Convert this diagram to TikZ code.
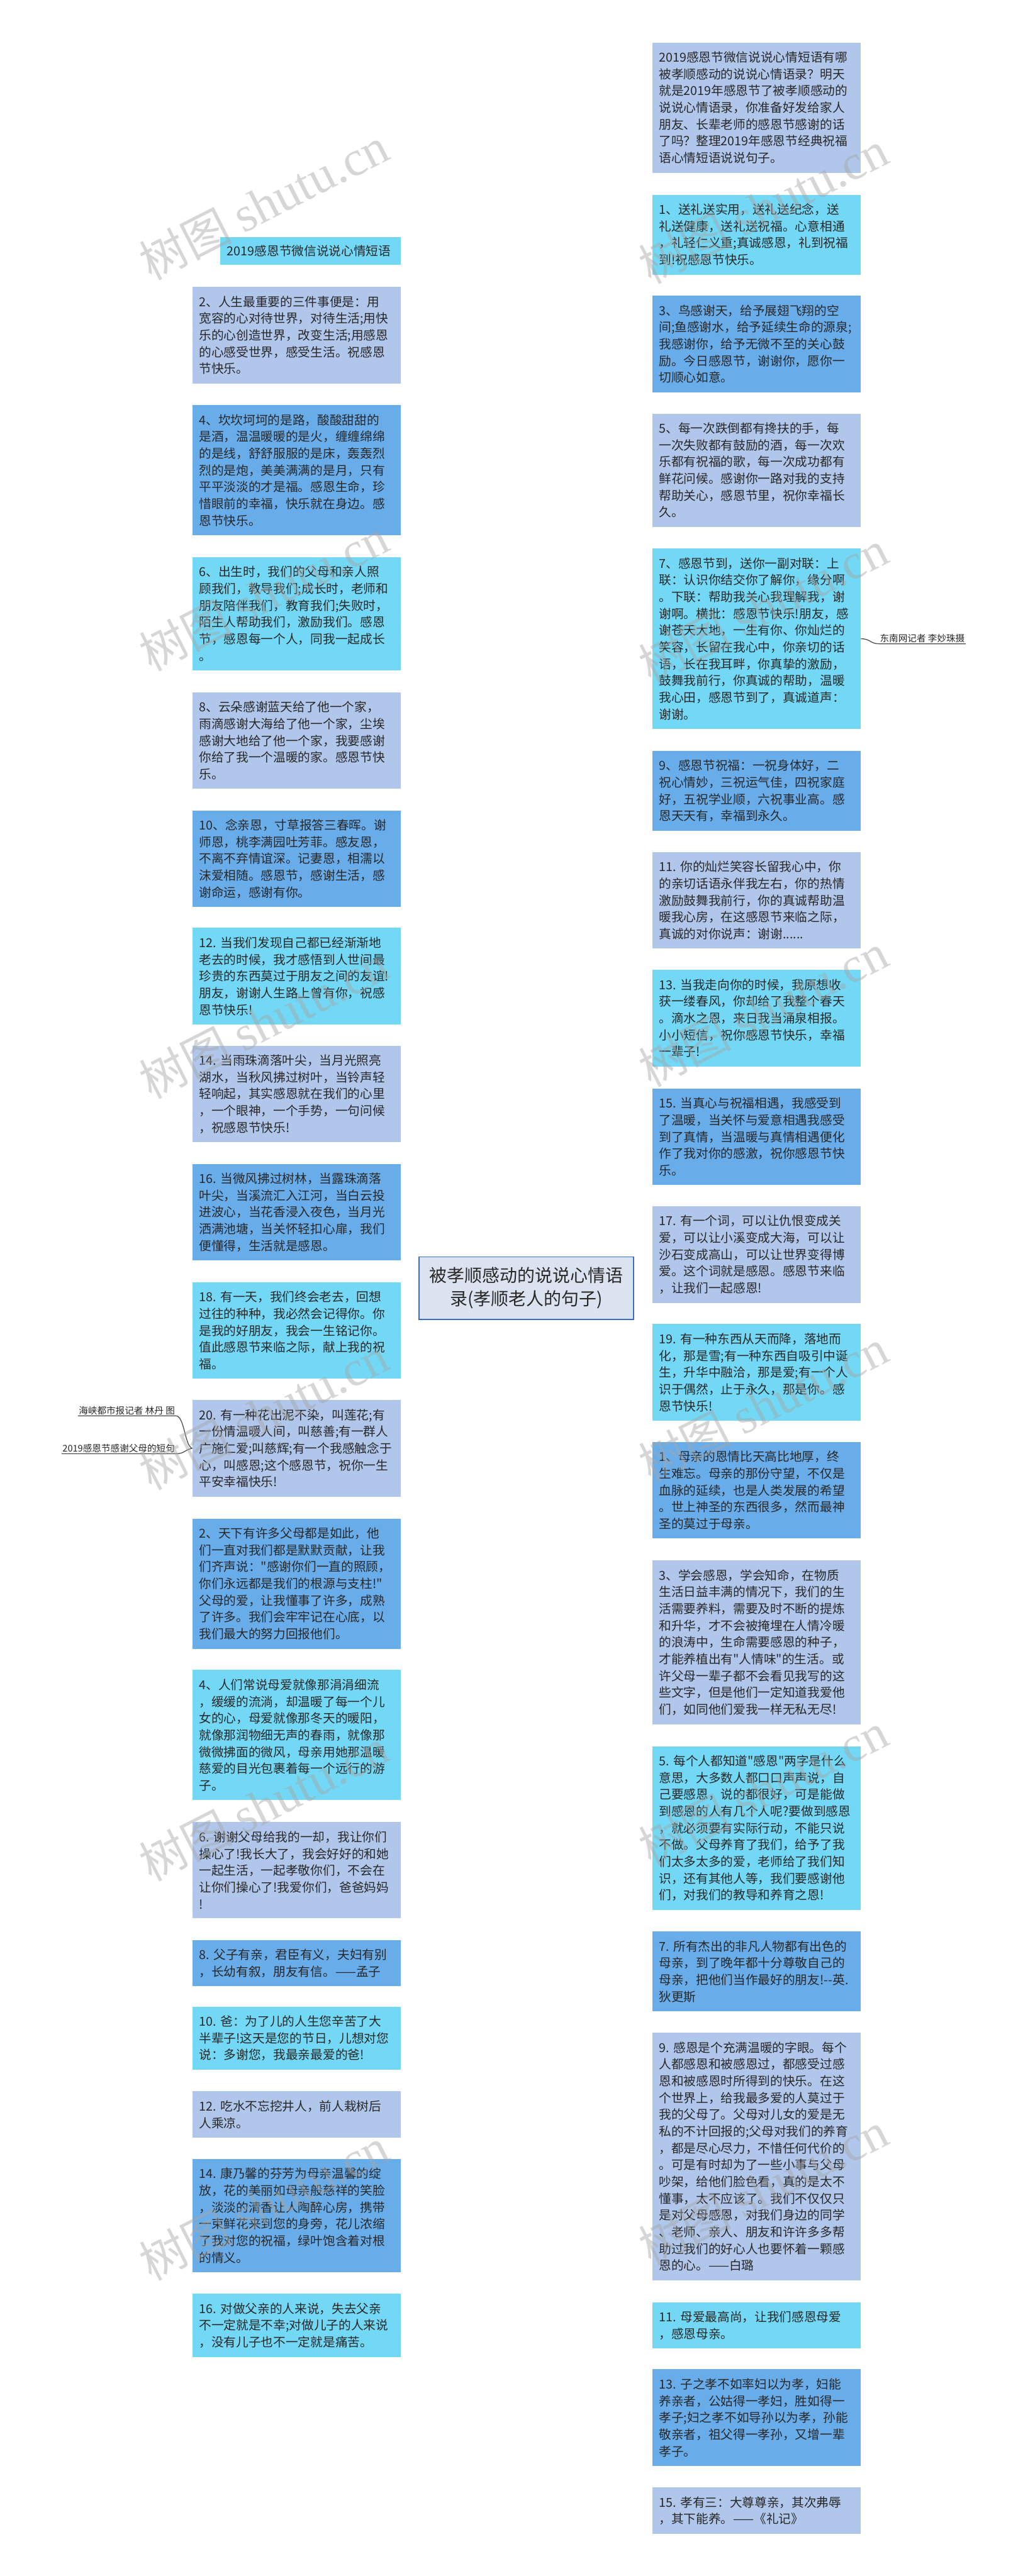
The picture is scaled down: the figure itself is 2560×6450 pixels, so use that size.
\documentclass[tikz,border=0pt]{standalone}
\usepackage{fontspec}
\newfontfamily\cjk{Noto Sans CJK SC}
\newfontfamily\wmserif{Liberation Serif}
\usetikzlibrary{calc}
\definecolor{lav}{RGB}{176,198,234}
\definecolor{cya}{RGB}{114,216,245}
\definecolor{blu}{RGB}{104,172,234}
\definecolor{rootfill}{RGB}{220,227,240}
\definecolor{rootline}{RGB}{58,110,198}
\definecolor{txt}{RGB}{40,40,40}
\pgfdeclarelayer{bg}
\pgfsetlayers{bg,main}
\tikzset{
  bx/.style={anchor=north west, text width=244pt, inner xsep=8.5pt, inner ysep=0pt,
    align=left, text=txt, font=\cjk\fontsize{15.5pt}{21pt}\selectfont},
  conn/.style={line width=2pt},
  lbl/.style={inner sep=1pt, text=txt, font=\cjk\fontsize{11.5pt}{14pt}\selectfont},
  wm/.style={rotate=27, text=black!35, opacity=0.45, inner sep=0pt}
}
\newcommand\lk[3]{\draw[conn,#1] (root.center) .. controls (root.center |- #2.#3) and ($(root.center |- #2.#3)!0.5!(#2.#3)$) .. (#2.#3);}
\begin{document}
\begin{tikzpicture}[x=0.5pt,y=-0.5pt]
\useasboundingbox[fill=white] (0,0) rectangle (2560,6450);
% root
\node[draw=rootline, line width=1.5pt, fill=rootfill, minimum width=268pt, minimum height=78pt,
  align=center, text=txt, font=\cjk\fontsize{22pt}{29pt}\selectfont, inner sep=0pt] (root) at (1317,3225)
  {被孝顺感动的说说心情语\\录(孝顺老人的句子)};
% ---------- left column ----------
\node[bx, fill=cya, text width=209pt, minimum height=35pt] (T) at (551,593) {2019感恩节微信说说心情短语};
\node[bx, fill=lav, minimum height=121pt] (L2) at (481,718) {2、人生最重要的三件事便是：用\\宽容的心对待世界，对待生活;用快\\乐的心创造世界，改变生活;用感恩\\的心感受世界，感受生活。祝感恩\\节快乐。};
\node[bx, fill=blu, minimum height=163pt] (L4) at (481,1014) {4、坎坎坷坷的是路，酸酸甜甜的\\是酒，温温暖暖的是火，缠缠绵绵\\的是线，舒舒服服的是床，轰轰烈\\烈的是炮，美美满满的是月，只有\\平平淡淡的才是福。感恩生命，珍\\惜眼前的幸福，快乐就在身边。感\\恩节快乐。};
\node[bx, fill=cya, minimum height=142pt] (L6) at (481,1394) {6、出生时，我们的父母和亲人照\\顾我们，教导我们;成长时，老师和\\朋友陪伴我们，教育我们;失败时，\\陌生人帮助我们，激励我们。感恩\\节，感恩每一个人，同我一起成长\\。};
\node[bx, fill=lav, minimum height=121pt] (L8) at (481,1733) {8、云朵感谢蓝天给了他一个家，\\雨滴感谢大海给了他一个家，尘埃\\感谢大地给了他一个家，我要感谢\\你给了我一个温暖的家。感恩节快\\乐。};
\node[bx, fill=blu, minimum height=121pt] (L10) at (481,2029) {10、念亲恩，寸草报答三春晖。谢\\师恩，桃李满园吐芳菲。感友恩，\\不离不弃情谊深。记妻恩，相濡以\\沫爱相随。感恩节，感谢生活，感\\谢命运，感谢有你。};
\node[bx, fill=cya, minimum height=121pt] (L12) at (481,2323) {12.~当我们发现自己都已经渐渐地\\老去的时候，我才感悟到人世间最\\珍贵的东西莫过于朋友之间的友谊!\\朋友，谢谢人生路上曾有你，祝感\\恩节快乐!};
\node[bx, fill=lav, minimum height=121pt] (L14) at (481,2618) {14.~当雨珠滴落叶尖，当月光照亮\\湖水，当秋风拂过树叶，当铃声轻\\轻响起，其实感恩就在我们的心里\\，一个眼神，一个手势，一句问候\\，祝感恩节快乐!};
\node[bx, fill=blu, minimum height=121pt] (L16) at (481,2914) {16.~当微风拂过树林，当露珠滴落\\叶尖，当溪流汇入江河，当白云投\\进波心，当花香浸入夜色，当月光\\洒满池塘，当关怀轻扣心扉，我们\\便懂得，生活就是感恩。};
\node[bx, fill=cya, minimum height=121pt] (L18) at (481,3210) {18.~有一天，我们终会老去，回想\\过往的种种，我必然会记得你。你\\是我的好朋友，我会一生铭记你。\\值此感恩节来临之际，献上我的祝\\福。};
\node[bx, fill=lav, minimum height=121pt] (L20) at (481,3505) {20.~有一种花出泥不染，叫莲花;有\\一份情温暖人间，叫慈善;有一群人\\广施仁爱;叫慈辉;有一个我感触念于\\心，叫感恩;这个感恩节，祝你一生\\平安幸福快乐!};
\node[bx, fill=blu, minimum height=163pt] (L2b) at (481,3802) {2、天下有许多父母都是如此，他\\们一直对我们都是默默贡献，让我\\们齐声说："感谢你们一直的照顾，\\你们永远都是我们的根源与支柱!"\\父母的爱，让我懂事了许多，成熟\\了许多。我们会牢牢记在心底，以\\我们最大的努力回报他们。};
\node[bx, fill=cya, minimum height=163pt] (L4b) at (481,4181) {4、人们常说母爱就像那涓涓细流\\，缓缓的流淌，却温暖了每一个儿\\女的心，母爱就像那冬天的暖阳，\\就像那润物细无声的春雨，就像那\\微微拂面的微风，母亲用她那温暖\\慈爱的目光包裹着每一个远行的游\\子。};
\node[bx, fill=lav, minimum height=121pt] (L6b) at (481,4561) {6.~谢谢父母给我的一却，我让你们\\操心了!我长大了，我会好好的和她\\一起生活，一起孝敬你们，不会在\\让你们操心了!我爱你们，爸爸妈妈\\!};
\node[bx, fill=blu, minimum height=58pt] (L8b) at (481,4857) {8.~父子有亲，君臣有义，夫妇有别\\，长幼有叙，朋友有信。——孟子};
\node[bx, fill=cya, minimum height=79pt] (L10b) at (481,5024) {10.~爸：为了儿的人生您辛苦了大\\半辈子!这天是您的节日，儿想对您\\说：多谢您，我最亲最爱的爸!};
\node[bx, fill=lav, minimum height=58pt] (L12b) at (481,5236) {12.~吃水不忘挖井人，前人栽树后\\人乘凉。};
\node[bx, fill=blu, minimum height=142pt] (L14b) at (481,5405) {14.~康乃馨的芬芳为母亲温馨的绽\\放，花的美丽如母亲般慈祥的笑脸\\，淡淡的清香让人陶醉心房，携带\\一束鲜花来到您的身旁，花儿浓缩\\了我对您的祝福，绿叶饱含着对根\\的情义。};
\node[bx, fill=cya, minimum height=79pt] (L16b) at (481,5743) {16.~对做父亲的人来说，失去父亲\\不一定就是不幸;对做儿子的人来说\\，没有儿子也不一定就是痛苦。};
% ---------- right column ----------
\node[bx, fill=lav, minimum height=163pt] (R0) at (1632,106) {2019感恩节微信说说心情短语有哪\\被孝顺感动的说说心情语录？明天\\就是2019年感恩节了被孝顺感动的\\说说心情语录，你准备好发给家人\\朋友、长辈老师的感恩节感谢的话\\了吗？整理2019年感恩节经典祝福\\语心情短语说说句子。};
\node[bx, fill=cya, minimum height=100pt] (R1) at (1632,487) {1、送礼送实用，送礼送纪念，送\\礼送健康，送礼送祝福。心意相通\\，礼轻仁义重;真诚感恩，礼到祝福\\到!祝感恩节快乐。};
\node[bx, fill=blu, minimum height=121pt] (R3) at (1632,740) {3、鸟感谢天，给予展翅飞翔的空\\间;鱼感谢水，给予延续生命的源泉;\\我感谢你，给予无微不至的关心鼓\\励。今日感恩节，谢谢你，愿你一\\切顺心如意。};
\node[bx, fill=lav, minimum height=142pt] (R5) at (1632,1035) {5、每一次跌倒都有搀扶的手，每\\一次失败都有鼓励的酒，每一次欢\\乐都有祝福的歌，每一次成功都有\\鲜花问候。感谢你一路对我的支持\\帮助关心，感恩节里，祝你幸福长\\久。};
\node[bx, fill=cya, minimum height=226pt] (R7) at (1632,1373) {7、感恩节到，送你一副对联：上\\联：认识你结交你了解你，缘分啊\\。下联：帮助我关心我理解我，谢\\谢啊。横批：感恩节快乐!朋友，感\\谢苍天大地，一生有你、你灿烂的\\笑容，长留在我心中，你亲切的话\\语，长在我耳畔，你真挚的激励，\\鼓舞我前行，你真诚的帮助，温暖\\我心田，感恩节到了，真诚道声：\\谢谢。};
\node[bx, fill=blu, minimum height=100pt] (R9) at (1632,1880) {9、感恩节祝福：一祝身体好，二\\祝心情妙，三祝运气佳，四祝家庭\\好，五祝学业顺，六祝事业高。感\\恩天天有，幸福到永久。};
\node[bx, fill=lav, minimum height=121pt] (R11) at (1632,2133) {11.~你的灿烂笑容长留我心中，你\\的亲切话语永伴我左右，你的热情\\激励鼓舞我前行，你的真诚帮助温\\暖我心房，在这感恩节来临之际，\\真诚的对你说声：谢谢......};
\node[bx, fill=cya, minimum height=121pt] (R13) at (1632,2428) {13.~当我走向你的时候，我原想收\\获一缕春风，你却给了我整个春天\\。滴水之恩，来日我当涌泉相报。\\小小短信，祝你感恩节快乐，幸福\\一辈子!};
\node[bx, fill=blu, minimum height=121pt] (R15) at (1632,2725) {15.~当真心与祝福相遇，我感受到\\了温暖，当关怀与爱意相遇我感受\\到了真情，当温暖与真情相遇便化\\作了我对你的感激，祝你感恩节快\\乐。};
\node[bx, fill=lav, minimum height=121pt] (R17) at (1632,3020) {17.~有一个词，可以让仇恨变成关\\爱，可以让小溪变成大海，可以让\\沙石变成高山，可以让世界变得博\\爱。这个词就是感恩。感恩节来临\\，让我们一起感恩!};
\node[bx, fill=cya, minimum height=121pt] (R19) at (1632,3315) {19.~有一种东西从天而降，落地而\\化，那是雪;有一种东西自吸引中诞\\生，升华中融洽，那是爱;有一个人\\识于偶然，止于永久，那是你。感\\恩节快乐!};
\node[bx, fill=blu, minimum height=121pt] (R1b) at (1632,3610) {1、母亲的恩情比天高比地厚，终\\生难忘。母亲的那份守望，不仅是\\血脉的延续，也是人类发展的希望\\。世上神圣的东西很多，然而最神\\圣的莫过于母亲。};
\node[bx, fill=lav, minimum height=205pt] (R3b) at (1632,3907) {3、学会感恩，学会知命，在物质\\生活日益丰满的情况下，我们的生\\活需要养料，需要及时不断的提炼\\和升华，才不会被掩埋在人情冷暖\\的浪涛中，生命需要感恩的种子，\\才能养植出有"人情味"的生活。或\\许父母一辈子都不会看见我写的这\\些文字，但是他们一定知道我爱他\\们，如同他们爱我一样无私无尽!};
\node[bx, fill=cya, minimum height=205pt] (R5b) at (1632,4372) {5.~每个人都知道"感恩"两字是什么\\意思，大多数人都口口声声说，自\\己要感恩，说的都很好，可是能做\\到感恩的人有几个人呢?要做到感恩\\，就必须要有实际行动，不能只说\\不做。父母养育了我们，给予了我\\们太多太多的爱，老师给了我们知\\识，还有其他人等，我们要感谢他\\们，对我们的教导和养育之恩!};
\node[bx, fill=blu, minimum height=100pt] (R7b) at (1632,4836) {7.~所有杰出的非凡人物都有出色的\\母亲，到了晚年都十分尊敬自己的\\母亲，把他们当作最好的朋友!-{}-英.\\狄更斯};
\node[bx, fill=lav, minimum height=310pt] (R9b) at (1632,5089) {9.~感恩是个充满温暖的字眼。每个\\人都感恩和被感恩过，都感受过感\\恩和被感恩时所得到的快乐。在这\\个世界上，给我最多爱的人莫过于\\我的父母了。父母对儿女的爱是无\\私的不计回报的;父母对我们的养育\\，都是尽心尽力，不惜任何代价的\\。可是有时却为了一些小事与父母\\吵架，给他们脸色看，真的是太不\\懂事，太不应该了。我们不仅仅只\\是对父母感恩，对我们身边的同学\\、老师、亲人、朋友和许许多多帮\\助过我们的好心人也要怀着一颗感\\恩的心。——白璐};
\node[bx, fill=cya, minimum height=58pt] (R11b) at (1632,5764) {11.~母爱最高尚，让我们感恩母爱\\，感恩母亲。};
\node[bx, fill=blu, minimum height=121pt] (R13b) at (1632,5932) {13.~子之孝不如率妇以为孝，妇能\\养亲者，公姑得一孝妇，胜如得一\\孝子;妇之孝不如导孙以为孝，孙能\\敬亲者，祖父得一孝孙，又增一辈\\孝子。};
\node[bx, fill=lav, minimum height=58pt] (R15b) at (1632,6228) {15.~孝有三：大尊尊亲，其次弗辱\\，其下能养。——《礼记》};
% ---------- side labels ----------
\node[lbl, anchor=south east] (la) at (440,3545) {海峡都市报记者 林丹 图};
\node[lbl, anchor=south east] (lb) at (440,3640) {2019感恩节感谢父母的短句};
\node[lbl, anchor=south west] (lc) at (2200,1612) {东南网记者 李妙珠摄};
\draw[line width=1pt, black!70] (la.south west) -- (la.south east) .. controls (462,3545) and (462,3620) .. (L20.west);
\draw[line width=1pt, black!70] (lb.south west) -- (lb.south east) .. controls (462,3640) and (462,3630) .. (L20.west);
\draw[line width=1pt, black!70] (R7.east) .. controls (2178,1599) and (2178,1612) .. (lc.south west) -- (lc.south east);
% ---------- connectors ----------
\begin{pgfonlayer}{bg}
\lk{cya}{T}{east}
\lk{lav}{L2}{east}
\lk{blu}{L4}{east}
\lk{cya}{L6}{east}
\lk{lav}{L8}{east}
\lk{blu}{L10}{east}
\lk{cya}{L12}{east}
\lk{lav}{L14}{east}
\lk{blu}{L16}{east}
\lk{cya}{L18}{east}
\lk{lav}{L20}{east}
\lk{blu}{L2b}{east}
\lk{cya}{L4b}{east}
\lk{lav}{L6b}{east}
\lk{blu}{L8b}{east}
\lk{cya}{L10b}{east}
\lk{lav}{L12b}{east}
\lk{blu}{L14b}{east}
\lk{cya}{L16b}{east}
\lk{lav}{R0}{west}
\lk{cya}{R1}{west}
\lk{blu}{R3}{west}
\lk{lav}{R5}{west}
\lk{cya}{R7}{west}
\lk{blu}{R9}{west}
\lk{lav}{R11}{west}
\lk{cya}{R13}{west}
\lk{blu}{R15}{west}
\lk{lav}{R17}{west}
\lk{cya}{R19}{west}
\lk{blu}{R1b}{west}
\lk{lav}{R3b}{west}
\lk{cya}{R5b}{west}
\lk{blu}{R7b}{west}
\lk{lav}{R9b}{west}
\lk{cya}{R11b}{west}
\lk{blu}{R13b}{west}
\lk{lav}{R15b}{west}
\end{pgfonlayer}
% ---------- watermarks ----------
\foreach \wx/\wy [count=\i] in {660/510,660/1490,660/2560,660/3540,660/4520,660/5520,1910/520,1910/1520,1910/2530,1910/3520,1910/4480,1910/5480}
  \node[wm] (wm\i) at (\wx,\wy) {{\cjk\fontsize{58pt}{58pt}\selectfont 树图}\hspace{14pt}{\wmserif\fontsize{62pt}{62pt}\selectfont shutu.cn}};
\end{tikzpicture}
\end{document}
